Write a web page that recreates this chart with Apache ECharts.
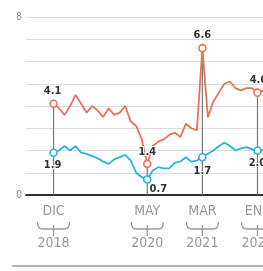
<!DOCTYPE html>
<html>
<head>
<meta charset="utf-8">
<script src="https://cdn.jsdelivr.net/npm/echarts@6/dist/echarts.min.js"></script>
<style>
  html, body { margin: 0; padding: 0; background: #fff; }
  #chart { width: 263px; height: 271px; }
</style>
</head>
<body>
<div id="chart"></div>
<script>
// valeurs mensuelles, de DIC 2018 (index 0) à FEB 2022 (index 38)
const redValues = [
  4.1, 3.9, 3.6, 4.0, 4.5, 4.1, 3.7, 4.0, 3.8, 3.5, 3.9, 3.6, 3.7, 4.0, 3.3, 3.1, 2.5,
  1.4, 2.2, 2.4, 2.5, 2.7, 2.8, 2.6, 3.2, 3.0, 2.9,
  6.6, 3.5, 4.2, 4.6, 5.0, 5.1, 4.8, 4.7, 4.8, 4.8,
  4.6, 4.7
];
const blueValues = [
  1.9, 2.0, 2.2, 2.0, 2.2, 1.9, 1.85, 1.75, 1.65, 1.5, 1.4, 1.6, 1.7, 1.8, 1.55, 1.0, 0.8,
  0.7, 1.1, 1.25, 1.2, 1.2, 1.45, 1.5, 1.7, 1.5, 1.55,
  1.7, 1.85, 2.0, 2.2, 2.35, 2.2, 2.0, 2.1, 2.15, 2.05,
  2.0, 2.0
];
const keyIdx = [0, 17, 27, 37];
const keyMonths = ['DIC', 'MAY', 'MAR', 'ENE'];
const keyYears = ['2018', '2020', '2021', '2022'];
const yTickLabels = [0, 8];

const RED = '#e4745a';
const BLUE = '#27b4d8';
const FONT = "'Liberation Sans Narrow', 'DejaVu Sans Condensed', 'Roboto', sans-serif";

// position des étiquettes de valeur, dans l'ordre de keyIdx
const redLabelPos = [
  { position: 'top', offset: [-1, 2] },
  { position: 'top', offset: [0, 3] },
  { position: 'top', offset: [0, 2] },
  { position: 'top', offset: [1, 2] },
];
const blueLabelPos = [
  { position: 'bottom', offset: [-1, -2] },
  { position: 'bottom', offset: [11, -5] },
  { position: 'bottom', offset: [0, -1] },
  { position: 'bottom', offset: [0, -2] },
];

function buildData(values, color, labelPos) {
  return values.map((v, i) => {
    const k = keyIdx.indexOf(i);
    if (k < 0) return [i, v];
    return {
      value: [i, v],
      symbol: 'circle',
      symbolSize: 7,
      itemStyle: { color: '#fff', borderColor: color, borderWidth: 1.6 },
      label: {
        show: true,
        ...labelPos[k],
        formatter: () => v.toFixed(1),
        color: '#333',
        fontFamily: FONT,
        fontWeight: 'bold',
        fontSize: 11,
        textBorderColor: '#fff',
        textBorderWidth: 2,
      },
    };
  });
}

function lineSeries(name, values, color, labelPos) {
  return {
    name,
    type: 'line',
    z: 3,
    showSymbol: true,
    symbol: 'none',
    lineStyle: { color, width: 1.8 },
    itemStyle: { color },
    emphasis: { disabled: true },
    data: buildData(values, color, labelPos),
  };
}

// repères verticaux + accolades sous l'axe
function renderMarker(params, api) {
  const i = api.value(0);
  const base = api.coord([i, 0]);
  const top = api.coord([i, api.value(1)]);
  return {
    type: 'group',
    children: [
      {
        type: 'line',
        shape: { x1: base[0], y1: base[1], x2: top[0], y2: top[1] },
        style: { stroke: '#777', lineWidth: 1.2 },
      },
      {
        type: 'path',
        shape: {
          pathData: 'M0 0 Q0 7 5 7 L27 7 Q32 7 32 0 M16 3 L16 14',
          x: base[0] - 16, y: base[1] + 27, width: 32, height: 14, layout: 'cover',
        },
        style: { stroke: '#999', lineWidth: 1.3, fill: null },
      },
    ],
  };
}

const chart = echarts.init(document.getElementById('chart'), null, { renderer: 'canvas' });
chart.setOption({
  animation: false,
  backgroundColor: '#fff',
  grid: { left: 26, right: 0, top: 17, bottom: 76, outerBoundsMode: 'none', containLabel: false },
  xAxis: {
    type: 'value',
    min: -5,
    max: 38,
    interval: 1,
    splitLine: { show: false },
    axisTick: { show: false },
    axisLine: { onZero: false, lineStyle: { color: '#333', width: 2 } },
    axisLabel: {
      margin: 9,
      formatter: (v) => {
        const k = keyIdx.indexOf(v);
        return k < 0 ? '' : `{m|${keyMonths[k]}}\n{g| }\n{y|${keyYears[k]}}`;
      },
      rich: {
        m: { color: '#999', fontFamily: FONT, fontSize: 14, lineHeight: 15 },
        g: { fontSize: 10, lineHeight: 17 },
        y: { color: '#999', fontFamily: FONT, fontSize: 14, lineHeight: 15 },
      },
    },
  },
  yAxis: {
    type: 'value',
    min: 0,
    max: 8,
    interval: 1,
    axisLine: { show: false },
    axisTick: { show: false },
    splitLine: { lineStyle: { color: '#ddd', width: 1 } },
    axisLabel: {
      margin: 4,
      color: '#888',
      fontFamily: FONT,
      fontSize: 10,
      formatter: (v) => (yTickLabels.includes(v) ? String(v) : ''),
    },
  },
  series: [
    {
      type: 'custom',
      z: 1,
      clip: false,
      silent: true,
      renderItem: renderMarker,
      data: keyIdx.map((i) => [i, redValues[i]]),
    },
    lineSeries('rojo', redValues, RED, redLabelPos),
    lineSeries('azul', blueValues, BLUE, blueLabelPos),
  ],
  graphic: [
    {
      type: 'line',
      shape: { x1: 12, y1: 266, x2: 263, y2: 266 },
      style: { stroke: '#666', lineWidth: 1 },
    },
  ],
});
</script>
</body>
</html>
